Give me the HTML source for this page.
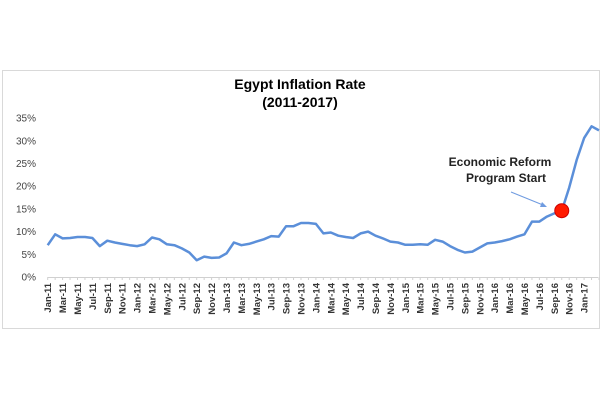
<!DOCTYPE html>
<html><head><meta charset="utf-8"><style>
html,body{margin:0;padding:0;background:#fff;}
svg{display:block;font-family:"Liberation Sans",Arial,sans-serif;}
</style></head><body>
<svg id="chart" width="600" height="400" viewBox="0 0 600 400">
<rect x="2.5" y="70.5" width="597" height="258" fill="#fff" stroke="#d9d9d9"/>
<text x="300" y="89" text-anchor="middle" font-size="14" font-weight="bold" fill="#000">Egypt Inflation Rate</text>
<text x="300" y="107" text-anchor="middle" font-size="14" font-weight="bold" fill="#000">(2011-2017)</text>
<g id="yaxis"></g><g id="xaxis"></g>
<path id="line" fill="none" stroke="#5b8fd9" stroke-width="2.5" stroke-linejoin="round"/>
<line x1="511" y1="192" x2="543" y2="205" stroke="#6f9be0" stroke-width="1"/>
<polygon points="547,207 540,207 542,202" fill="#6f9be0"/>
<text x="500" y="166" text-anchor="middle" font-size="12" font-weight="bold" fill="#222">Economic Reform</text>
<text x="506" y="182" text-anchor="middle" font-size="12" font-weight="bold" fill="#222">Program Start</text>
<circle id="dot" r="7" fill="#ff1a00" stroke="#c00" stroke-width="1"/>
</svg>
<script>
const months=["Jan","Feb","Mar","Apr","May","Jun","Jul","Aug","Sep","Oct","Nov","Dec"];
const values=[7.0,9.4,8.5,8.6,8.8,8.8,8.6,6.8,8.0,7.6,7.3,7.0,
6.8,7.2,8.7,8.3,7.2,7.0,6.3,5.4,3.7,4.5,4.2,4.3,
5.2,7.6,7.0,7.3,7.8,8.3,9.0,8.9,11.2,11.2,11.9,11.9,
11.7,9.6,9.8,9.1,8.8,8.6,9.6,10.0,9.1,8.5,7.8,7.6,
7.1,7.1,7.2,7.1,8.2,7.8,6.8,6.0,5.4,5.6,6.5,7.4,
7.6,7.9,8.3,8.9,9.4,12.2,12.2,13.3,14.0,14.6,19.7,25.8,
30.6,33.2,32.3];
const yTicks=[0,5,10,15,20,25,30,35];
const reformIndex=69;
const NS="http://www.w3.org/2000/svg";
const x=i=>47.7+i*7.45;
const y=v=>277-v*4.54;
const ya=document.getElementById('yaxis'),xa=document.getElementById('xaxis');
yTicks.forEach(t=>{const e=document.createElementNS(NS,'text');


e.setAttribute('x',36);e.setAttribute('y',y(t)+3.5);e.setAttribute('text-anchor','end');
e.setAttribute('font-size','10');e.setAttribute('fill','#444');e.textContent=t+'%';ya.appendChild(e);});
const ax=document.createElementNS(NS,'line');


ax.setAttribute('x1',x(0));ax.setAttribute('x2',598);ax.setAttribute('y1',277.5);ax.setAttribute('y2',277.5);
ax.setAttribute('stroke','#d0d0d0');xa.appendChild(ax);
values.forEach((v,i)=>{
 const tk=document.createElementNS(NS,'line');
 
 
 tk.setAttribute('x1',x(i));tk.setAttribute('x2',x(i));tk.setAttribute('y1',277);tk.setAttribute('y2',280);
 tk.setAttribute('stroke','#d0d0d0');xa.appendChild(tk);
 if(i%2===0 && i<values.length-1){const e=document.createElementNS(NS,'text');
 
 
 const lx=x(i)+3.5,ly=283;
 e.setAttribute('transform','translate('+lx+','+ly+') rotate(-90)');
 e.setAttribute('text-anchor','end');e.setAttribute('font-size','9.5');e.setAttribute('font-weight','bold');e.setAttribute('fill','#333');
 e.textContent=months[i%12]+'-'+(11+Math.floor(i/12));xa.appendChild(e);}
});
document.getElementById('line').setAttribute('d',values.map((v,i)=>(i?'L':'M')+x(i).toFixed(1)+','+y(v).toFixed(1)).join(''));
const d=document.getElementById('dot');d.setAttribute('cx',x(reformIndex));d.setAttribute('cy',y(values[reformIndex]));
</script>
</body></html>
